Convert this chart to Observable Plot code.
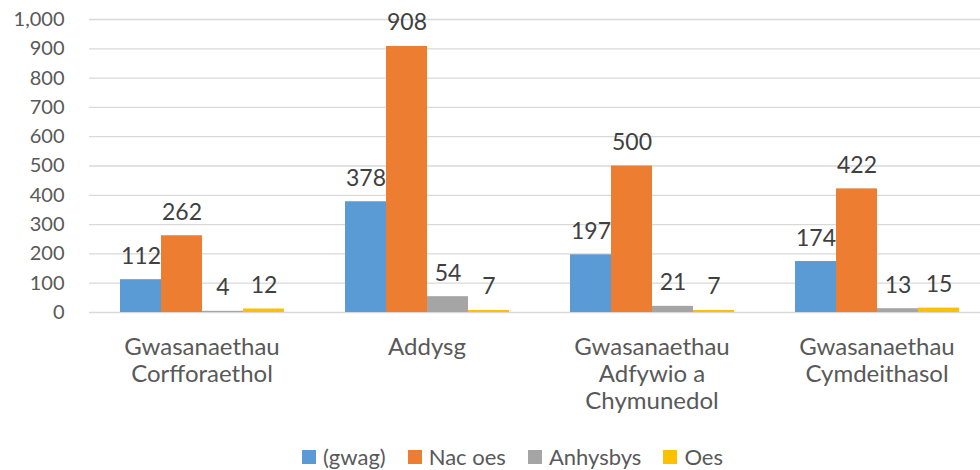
<!DOCTYPE html>
<html>
<head>
<meta charset="utf-8">
<script src="https://cdn.jsdelivr.net/npm/d3@7"></script>
<script src="https://cdn.jsdelivr.net/npm/@observablehq/plot@0.6"></script>
<style>
  html, body { margin: 0; padding: 0; background: #fff; }
  body { width: 980px; height: 470px; overflow: hidden; font-family: Lato, "Open Sans", sans-serif; }
  #chart { width: 980px; height: 430px; overflow: hidden; }
  #legend { display: flex; justify-content: center; gap: 22px; font-size: 22px; line-height: 22px; height: 22px; color: #595959; margin-top: 16px; padding-left: 45px; }
  #legend span.item { display: flex; align-items: center; gap: 7px; }
  #legend span.sw { width: 14px; height: 14px; display: inline-block; }
</style>
</head>
<body>
<div id="chart"></div>
<div id="legend"></div>
<script>
const categories = ["Gwasanaethau\nCorfforaethol", "Addysg", "Gwasanaethau\nAdfywio a\nChymunedol", "Gwasanaethau\nCymdeithasol"];
const series = ["(gwag)", "Nac oes", "Anhysbys", "Oes"];
const colors = ["#5B9BD5", "#ED7D31", "#A5A5A5", "#FFC000"];
const gwag = [112, 378, 197, 174];
const nacOes = [262, 908, 500, 422];
const anhysbys = [4, 54, 21, 13];
const oes = [12, 7, 7, 15];
const yTicks = [0, 100, 200, 300, 400, 500, 600, 700, 800, 900, 1000];

const seriesValues = [gwag, nacOes, anhysbys, oes];
const data = [];
categories.forEach((c, i) => {
  series.forEach((s, j) => data.push({category: c, series: s, value: seriesValues[j][i]}));
});

const chart = Plot.plot({
  width: 990,
  height: 430,
  marginTop: 19,
  marginBottom: 118,
  marginLeft: 87,
  marginRight: 0,
  style: {fontFamily: "Lato, 'Open Sans', sans-serif", fontSize: "20px", color: "#595959", background: "#fff", overflow: "visible"},
  fx: {domain: categories, padding: 0, label: null},
  x: {domain: series, paddingInner: 0, paddingOuter: 0.733, axis: null},
  y: {domain: [0, 1000], axis: null},
  color: {domain: series, range: colors},
  marks: [
    Plot.ruleY(yTicks, {stroke: "#d9d9d9", strokeWidth: 1.3}),
    Plot.axisY({ticks: yTicks, tickFormat: d3.format(","), tickSize: 0, tickPadding: 25, fontSize: 20, fill: "#595959", label: null}),
    Plot.axisFx({anchor: "bottom", tickSize: 0, tickPadding: 23, fontSize: 24, fill: "#595959", lineHeight: 1.125, label: null}),
    Plot.barY(data, {fx: "category", x: "series", y: "value", fill: "series"}),
    Plot.text(data, {fx: "category", x: "series", y: "value", text: d => d3.format(",")(d.value), lineAnchor: "bottom", dy: -16, fill: "#404040", fontSize: 23})
  ]
});
chart.style.display = "block";
chart.style.maxWidth = "none";
document.getElementById("chart").appendChild(chart);

const legend = document.getElementById("legend");
series.forEach((s, i) => {
  const item = document.createElement("span");
  item.className = "item";
  const sw = document.createElement("span");
  sw.className = "sw";
  sw.style.background = colors[i];
  const t = document.createElement("span");
  t.textContent = s;
  item.appendChild(sw);
  item.appendChild(t);
  legend.appendChild(item);
});
</script>
</body>
</html>
